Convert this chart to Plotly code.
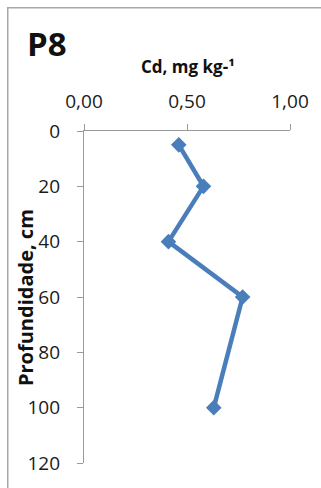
import plotly.graph_objects as go

# Cd concentration profile, station P8
depth_cm = [5, 20, 40, 60, 100]
cd_mg_kg = [0.46, 0.58, 0.41, 0.77, 0.63]

x_ticks = [0.0, 0.5, 1.0]
x_tick_text = ["0,00", "0,50", "1,00"]
y_ticks = [0, 20, 40, 60, 80, 100, 120]

W, H = 321, 488
ML, MR, MT, MB = 84, 29, 131, 20
PW, PH = W - ML - MR, H - MT - MB

def px_x(px):
    return (px - ML) / PW

def px_y(py):
    return 1 - (py - MT) / PH

FONT = "Open Sans"
BLUE = "#4a7ebb"
AXIS = "#9a9a9a"
TEXT = "#1a1a1a"

fig = go.Figure()
fig.add_trace(go.Scatter(
    x=cd_mg_kg, y=depth_cm,
    mode="lines+markers",
    line=dict(color=BLUE, width=4.5),
    marker=dict(symbol="diamond", size=12, color=BLUE),
    cliponaxis=False,
    showlegend=False,
))

fig.update_layout(
    width=W, height=H,
    margin=dict(l=ML, r=MR, t=MT, b=MB),
    paper_bgcolor="white", plot_bgcolor="white",
    font=dict(family=FONT, color=TEXT),
    xaxis=dict(
        side="top", range=[0, 1], tickvals=x_ticks, ticktext=x_tick_text,
        showgrid=False, zeroline=False, showline=True, linecolor=AXIS, linewidth=1.3,
        ticks="outside", ticklen=6, tickcolor=AXIS, tickwidth=1.3,
        tickfont=dict(size=19, family=FONT, color=TEXT),
        ticklabelstandoff=8,
    ),
    yaxis=dict(
        range=[120, 0], tickvals=y_ticks,
        showgrid=False, zeroline=False, showline=True, linecolor=AXIS, linewidth=1.3,
        ticks="outside", ticklen=6, tickcolor=AXIS, tickwidth=1.3,
        tickfont=dict(size=19, family=FONT, color=TEXT),
        ticklabelstandoff=13,
    ),
    shapes=[dict(
        type="rect", xref="paper", yref="paper",
        x0=px_x(7), x1=px_x(W + 20), y0=px_y(6), y1=px_y(H + 20),
        line=dict(color="#a8a8a8", width=1.5), fillcolor="rgba(0,0,0,0)",
        layer="below",
    )],
    annotations=[
        dict(text="<b>P8</b>", xref="paper", yref="paper",
             x=px_x(24), y=px_y(42), xanchor="left", yanchor="middle",
             showarrow=False, font=dict(size=33, family=FONT, color="#111111")),
        dict(text="<b>Cd, mg kg-¹</b>", xref="paper", yref="paper",
             x=px_x(189), y=px_y(66), xanchor="center", yanchor="middle",
             showarrow=False, font=dict(size=17, family=FONT, color="#111111")),
        dict(text="<b>Profundidade, cm</b>", xref="paper", yref="paper",
             x=px_x(25), y=px_y(300), xanchor="center", yanchor="middle",
             textangle=-90,
             showarrow=False, font=dict(size=20, family=FONT, color="#111111")),
    ],
)

fig.write_html("out.html")
